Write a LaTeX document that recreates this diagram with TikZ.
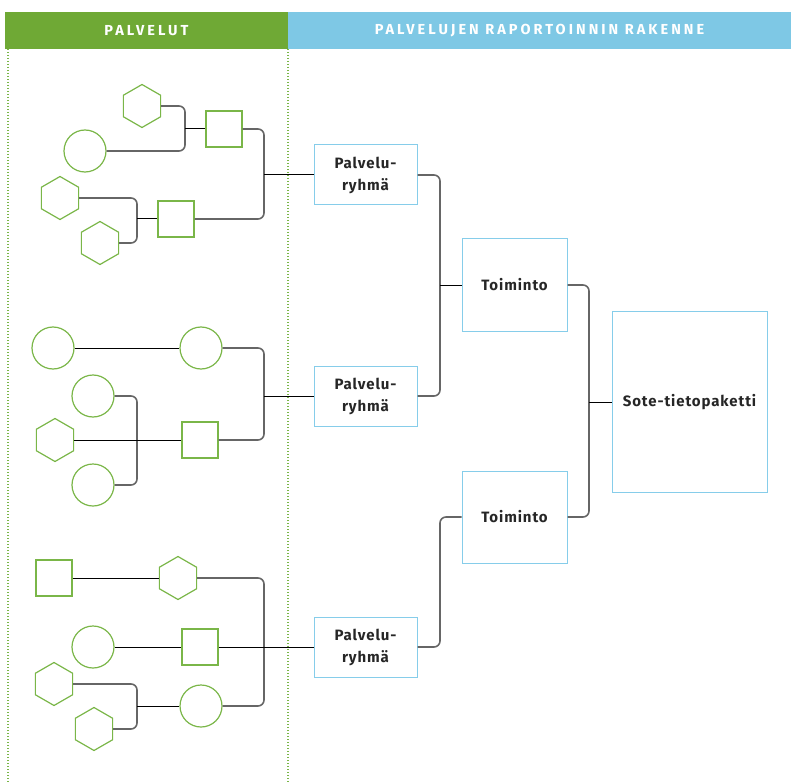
\documentclass[tikz,border=0pt]{standalone}
\usepackage{fontspec}
\setmainfont{Fira Sans}
\usetikzlibrary{shapes.geometric}
\definecolor{hdrgreen}{HTML}{6FA935}
\definecolor{hdrblue}{HTML}{7EC8E5}
\definecolor{shapegreen}{HTML}{7AB648}
\definecolor{boxblue}{HTML}{86CDEA}
\tikzset{
	hdr/.style={inner sep=0pt, minimum height=37pt, text=white,
			font=\bfseries\addfontfeature{LetterSpace=21}\fontsize{14.5}{16}\selectfont},
	hexa/.style={regular polygon, regular polygon sides=6, shape border rotate=30,
			draw=shapegreen, line width=1.2pt, inner sep=0pt, minimum size=43pt},
	circ/.style={circle, draw=shapegreen, line width=1.2pt, inner sep=0pt, minimum size=42pt},
	sq/.style={rectangle, draw=shapegreen, line width=1.2pt, inner sep=0pt, minimum size=36pt},
	grp/.style={rectangle, draw=boxblue, line width=1pt, inner sep=0pt, align=center,
			minimum width=103pt, minimum height=60pt, text=black!85,
			font=\bfseries\addfontfeature{LetterSpace=6}\fontsize{15}{22}\selectfont},
	brk/.style={draw=black!60, line width=1.6pt, rounded corners=6pt},
	stub/.style={draw=black, line width=1pt},
	sep/.style={draw=shapegreen, line width=1.6pt, dash pattern=on 1.4pt off 1.6pt}
}
\begin{document}
\begin{tikzpicture}[x=1pt, y=-1pt]
	\useasboundingbox (0,0) rectangle (791,783);

	% otsikot
	\node[hdr, fill=hdrgreen, minimum width=283pt] (hdrL) at (146.5,30.5) {PALVELUT};
	\node[hdr, fill=hdrblue, minimum width=503pt] (hdrR) at (539.5,30.5) {PALVELUJEN RAPORTOINNIN RAKENNE};
	\draw[sep] (8,49) -- (8,783);
	\draw[sep] (288,49) -- (288,783);

	% palvelut, ylin ryhma
	\node[hexa] (hxA) at (142,106) {};
	\node[circ] (ciB) at (85,151) {};
	\node[sq] (sqC) at (224,129) {};
	\node[hexa] (hxD) at (60,198) {};
	\node[hexa] (hxE) at (100,243) {};
	\node[sq] (sqF) at (176,219) {};

	% palvelut, keskimmainen ryhma
	\node[circ] (ciG) at (53,348) {};
	\node[circ] (ciH) at (201,348) {};
	\node[circ] (ciI) at (93,396) {};
	\node[hexa] (hxJ) at (55,440) {};
	\node[circ] (ciK) at (93,485) {};
	\node[sq] (sqL) at (200,440) {};

	% palvelut, alin ryhma
	\node[sq] (sqM) at (54,578) {};
	\node[hexa] (hxN) at (178,578) {};
	\node[circ] (ciO) at (93,647) {};
	\node[sq] (sqP) at (200,647) {};
	\node[hexa] (hxQ) at (54,684) {};
	\node[hexa] (hxR) at (94,729) {};
	\node[circ] (ciS) at (201,706) {};

	% raportoinnin rakenne
	\node[grp] (pr1) at (365.5,175) {Palvelu-\\ryhmä};
	\node[grp] (pr2) at (365.5,396) {Palvelu-\\ryhmä};
	\node[grp] (pr3) at (365.5,647) {Palvelu-\\ryhmä};
	\node[grp, minimum width=105pt, minimum height=92pt] (tm1) at (514.5,285) {Toiminto};
	\node[grp, minimum width=105pt, minimum height=92pt] (tm2) at (514.5,517) {Toiminto};
	\node[grp, minimum width=155pt, minimum height=181pt] (sote) at (689.5,402) {Sote-tietopaketti};

	% liitoskohdat
	\coordinate (jAB) at (185,129);
	\coordinate (jDE) at (137,219);
	\coordinate (jCF) at (264,175);
	\coordinate (jIK) at (137,440);
	\coordinate (jHL) at (264,396);
	\coordinate (jQR) at (137,706);
	\coordinate (jNS) at (264,647);
	\coordinate (jP12) at (440,285);
	\coordinate (jP3) at (440,517);
	\coordinate (jT12) at (589,402);

	% yhteydet
	\draw[brk] (hxA.east) -| (jAB) |- (ciB.east);
	\draw[stub] (jAB) -- (sqC.west);
	\draw[brk] (hxD.east) -| (jDE) |- (hxE.east);
	\draw[stub] (jDE) -- (sqF.west);
	\draw[brk] (sqC.east) -| (jCF) |- (sqF.east);
	\draw[stub] (jCF) -- (pr1.west);

	\draw[stub] (ciG) -- (ciH);
	\draw[brk] (ciI.east) -| (jIK) |- (ciK.east);
	\draw[stub] (hxJ) -- (sqL);
	\draw[brk] (ciH.east) -| (jHL) |- (sqL.east);
	\draw[stub] (jHL) -- (pr2.west);

	\draw[stub] (sqM) -- (hxN);
	\draw[stub] (ciO) -- (sqP);
	\draw[brk] (hxQ.east) -| (jQR) |- (hxR.east);
	\draw[stub] (jQR) -- (ciS.west);
	\draw[brk] (hxN.east) -| (jNS) |- (ciS.east);
	\draw[stub] (sqP.east) -- (pr3.west);

	\draw[brk] (pr1.east) -| (jP12) |- (pr2.east);
	\draw[stub] (jP12) -- (tm1.west);
	\draw[brk] (pr3.east) -| (jP3) -- (tm2.west);
	\draw[brk] (tm1.east) -| (jT12) |- (tm2.east);
	\draw[stub] (jT12) -- (sote.west);
\end{tikzpicture}
\end{document}
